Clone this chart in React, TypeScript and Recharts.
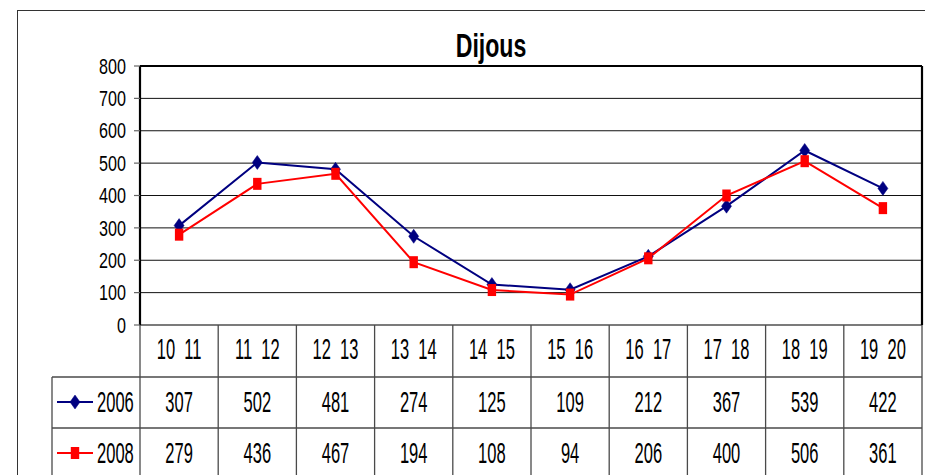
import React from 'react';
import { LineChart, Line, XAxis, YAxis, CartesianGrid, ReferenceLine } from 'recharts';

const categories = ['10  11', '11  12', '12  13', '13  14', '14  15', '15  16', '16  17', '17  18', '18  19', '19  20'];
const series2006 = [307, 502, 481, 274, 125, 109, 212, 367, 539, 422];
const series2008 = [279, 436, 467, 194, 108, 94, 206, 400, 506, 361];
const yTicks = [0, 100, 200, 300, 400, 500, 600, 700, 800];
const seriesNames = ['2006', '2008'];
const title = 'Dijous';

const data = categories.map((c, i) => ({ cat: c, s2006: series2006[i], s2008: series2008[i] }));

const W = 925;
const H = 475;
const Y_W = 140;
const R_W = 3;
const X_H = 150;
const TOP = 66;
const BAND = (W - Y_W - R_W) / categories.length;
const FONT = "'Liberation Sans',Arimo,Arial,sans-serif";
const NAVY = '#000080';
const RED = '#ff0000';
const TABLE_STROKE = '#4a4a4a';

const NText = ({ x, y, anchor = 'middle', children, size = 29, sx = 0.57 }: any) => (
  <g transform={`translate(${x},${y})`}>
    <text
      transform={`scale(${sx},1)`}
      textAnchor={anchor}
      dy="0.36em"
      style={{ fontFamily: FONT, fontSize: size, fill: '#000', whiteSpace: 'pre' }}
    >
      {children}
    </text>
  </g>
);

const Diamond = ({ cx, cy, fill }: { cx: number; cy: number; fill: string }) => (
  <path d={`M${cx},${cy - 7} L${cx + 5},${cy} L${cx},${cy + 7} L${cx - 5},${cy} Z`} fill={fill} stroke={fill} strokeWidth={0.5} />
);
const Square = ({ cx, cy, fill }: { cx: number; cy: number; fill: string }) => (
  <rect x={cx - 4.2} y={cy - 6} width={8.4} height={12} fill={fill} />
);

const YTick = (props: any) => {
  const { x, y, payload } = props;
  return (
    <NText x={x} y={y} anchor="end" size={21.5} sx={0.75}>
      {payload.value}
    </NText>
  );
};

const TableTick = (props: any) => {
  const { x, y, payload } = props;
  let index = props.index;
  if (typeof index !== 'number') index = categories.indexOf(payload.value);
  const left = x - BAND / 2;
  const right = x + BAND / 2;
  const r1 = y + 52;
  const r2 = r1 + 51;
  const r3 = r2 + 60;
  const legLeft = 52;
  return (
    <g>
      <line x1={left} y1={y} x2={left} y2={r3} stroke={TABLE_STROKE} strokeWidth={1.3} />
      {index === categories.length - 1 && (
        <line x1={right} y1={y} x2={right} y2={r3} stroke={TABLE_STROKE} strokeWidth={1.3} />
      )}
      <line x1={left} y1={r1} x2={right} y2={r1} stroke={TABLE_STROKE} strokeWidth={1.3} />
      <line x1={left} y1={r2} x2={right} y2={r2} stroke={TABLE_STROKE} strokeWidth={1.3} />
      <NText x={x} y={y + 23.5}>{payload.value}</NText>
      <NText x={x} y={r1 + 25}>{series2006[index]}</NText>
      <NText x={x} y={r2 + 25}>{series2008[index]}</NText>
      {index === 0 && (
        <g>
          <line x1={legLeft} y1={r1} x2={left} y2={r1} stroke={TABLE_STROKE} strokeWidth={1.3} />
          <line x1={legLeft} y1={r2} x2={left} y2={r2} stroke={TABLE_STROKE} strokeWidth={1.3} />
          <line x1={legLeft} y1={r1} x2={legLeft} y2={r3} stroke={TABLE_STROKE} strokeWidth={1.3} />
          <line x1={57} y1={r1 + 25} x2={93} y2={r1 + 25} stroke={NAVY} strokeWidth={2} />
          <Diamond cx={75} cy={r1 + 25} fill={NAVY} />
          <NText x={97} y={r1 + 25} anchor="start">{seriesNames[0]}</NText>
          <line x1={57} y1={r2 + 25} x2={93} y2={r2 + 25} stroke={RED} strokeWidth={2} />
          <Square cx={75} cy={r2 + 25} fill={RED} />
          <NText x={97} y={r2 + 25} anchor="start">{seriesNames[1]}</NText>
        </g>
      )}
    </g>
  );
};

export default function App() {
  return (
    <div style={{ position: 'absolute', left: 0, top: 0, width: W, height: H, background: '#fff', overflow: 'hidden' }}>
      <div
        style={{
          position: 'absolute',
          left: 17,
          top: 10,
          width: 930,
          height: 500,
          border: '1.5px solid #333',
          boxSizing: 'border-box',
        }}
      />
      <div style={{ position: 'absolute', left: 0, top: 0 }}>
        <LineChart width={W} height={H} data={data} margin={{ top: TOP, right: 0, left: 0, bottom: 0 }}>
          <CartesianGrid vertical={false} stroke="#111" strokeWidth={1} />
          <XAxis
            dataKey="cat"
            scale="band"
            height={X_H}
            interval={0}
            tickSize={0}
            tickMargin={0}
            tickLine={false}
            axisLine={{ stroke: '#777', strokeWidth: 1.5 }}
            tick={TableTick}
          />
          <YAxis
            width={Y_W}
            domain={[0, 800]}
            ticks={yTicks}
            interval={0}
            tickSize={6}
            tickMargin={8}
            tickLine={{ stroke: '#666', strokeWidth: 1.2 }}
            axisLine={{ stroke: '#000', strokeWidth: 2.2 }}
            tick={YTick}
          />
          <YAxis
            yAxisId="r"
            orientation="right"
            width={R_W}
            domain={[0, 800]}
            tick={false}
            tickLine={false}
            axisLine={{ stroke: '#000', strokeWidth: 2.2 }}
          />
          <ReferenceLine y={800} stroke="#000" strokeWidth={2.2} />
          <Line
            dataKey="s2006"
            name={seriesNames[0]}
            stroke={NAVY}
            strokeWidth={2}
            isAnimationActive={false}
            dot={(p: any) => <Diamond key={`d6-${p.index}`} cx={p.cx} cy={p.cy} fill={NAVY} />}
            activeDot={false}
          />
          <Line
            dataKey="s2008"
            name={seriesNames[1]}
            stroke={RED}
            strokeWidth={2}
            isAnimationActive={false}
            dot={(p: any) => <Square key={`d8-${p.index}`} cx={p.cx} cy={p.cy} fill={RED} />}
            activeDot={false}
          />
        </LineChart>
      </div>
      <svg width={W} height={H} style={{ position: 'absolute', left: 0, top: 0, pointerEvents: 'none' }}>
        <g transform="translate(491,57)">
          <text
            transform="scale(0.68,1)"
            textAnchor="middle"
            style={{ fontFamily: FONT, fontSize: 34, fontWeight: 'bold', fill: '#000' }}
          >
            {title}
          </text>
        </g>
      </svg>
    </div>
  );
}
